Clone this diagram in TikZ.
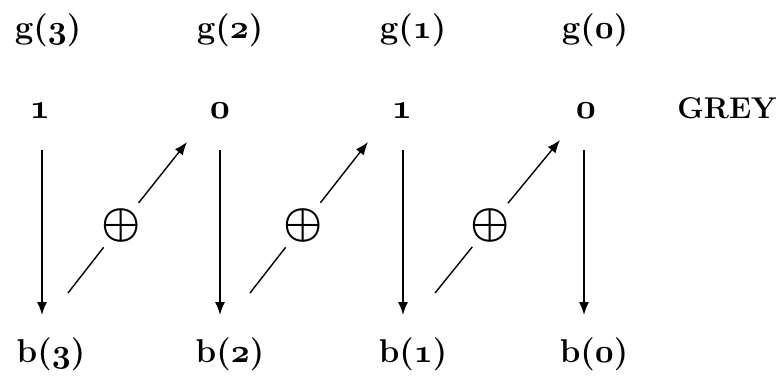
\RequirePackage{fix-cm}
\documentclass[tikz,border=0pt]{standalone}
\usetikzlibrary{arrows.meta}
\newcommand\osn[1]{{\boldmath$\mathnormal{#1}$}}
\begin{document}
\begin{tikzpicture}[x=1pt,y=-1pt,
  lab/.style={font=\fontsize{33}{36}\selectfont\bfseries, inner sep=0pt, anchor=base},
  dig/.style={font=\fontsize{35}{36}\selectfont\bfseries, inner sep=0pt, anchor=base},
  word/.style={font=\fontsize{30}{34}\selectfont\bfseries, inner sep=0pt, anchor=base},
  xorop/.style={circle, minimum size=56pt, inner sep=0pt, font=\fontsize{44}{50}\selectfont\boldmath},
  varr/.style={line width=1.5pt, -{Latex[length=13pt,width=10pt]}},
  darr/.style={line width=1.4pt},
  darrh/.style={line width=1.4pt, -{Latex[length=13pt,width=10pt]}}]
\useasboundingbox (0,0) rectangle (784,375);
% top labels
\node[lab] (g3) at (48,38) {g(\osn{3})};
\node[lab] (g2) at (230,38) {g(\osn{2})};
\node[lab] (g1) at (413,38) {g(\osn{1})};
\node[lab] (g0) at (595,38) {g(\osn{0})};
% digits
\node[dig] (d3) at (40,118) {\osn{1}};
\node[dig] (d2) at (220,118) {\osn{0}};
\node[dig] (d1) at (402,118) {\osn{1}};
\node[dig] (d0) at (586,118) {\osn{0}};
\node[word] (grey) at (727,118) {GREY};
% bottom labels
\node[lab] (b3) at (51,362) {b(\osn{3})};
\node[lab] (b2) at (230,362) {b(\osn{2})};
\node[lab] (b1) at (413,362) {b(\osn{1})};
\node[lab] (b0) at (594,362) {b(\osn{0})};
% vertical arrow ends
\coordinate (s3) at (42,150); \coordinate (t3) at (42,315);
\coordinate (s2) at (220,150); \coordinate (t2) at (220,315);
\coordinate (s1) at (403,150); \coordinate (t1) at (403,315);
\coordinate (s0) at (584,150); \coordinate (t0) at (584,315);
\draw[varr] (s3) -- (t3);
\draw[varr] (s2) -- (t2);
\draw[varr] (s1) -- (t1);
\draw[varr] (s0) -- (t0);
% xor operators
\node[xorop] (x1) at (121,225) {$\oplus$};
\node[xorop] (x2) at (303,225) {$\oplus$};
\node[xorop] (x3) at (490,225) {$\oplus$};
\coordinate (p1) at (68,293); \coordinate (q1) at (187,142);
\coordinate (p2) at (250,293); \coordinate (q2) at (368,142);
\coordinate (p3) at (435,293); \coordinate (q3) at (560,140);
\draw[darr] (p1) -- (x1); \draw[darrh] (x1) -- (q1);
\draw[darr] (p2) -- (x2); \draw[darrh] (x2) -- (q2);
\draw[darr] (p3) -- (x3); \draw[darrh] (x3) -- (q3);
\end{tikzpicture}
\end{document}
